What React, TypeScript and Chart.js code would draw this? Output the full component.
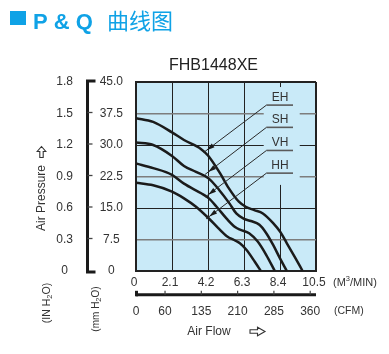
import { useEffect, useRef } from 'react';
import { Chart, registerables } from 'chart.js';

Chart.register(...registerables);

// ---- axis ticks / labels ----
const flowTicks = [0, 2.1, 4.2, 6.3, 8.4, 10.5];
const flowLabels = ['0', '2.1', '4.2', '6.3', '8.4', '10.5'];
const cfmTicks = [0, 60, 135, 210, 285, 360];
const cfmLabels = ['0', '60', '135', '210', '285', '360'];
const mmTicks = [0, 7.5, 15, 22.5, 30, 37.5, 45];
const mmLabels = ['0', '7.5', '15.0', '22.5', '30.0', '37.5', '45.0'];
const inTicks = [0, 0.3, 0.6, 0.9, 1.2, 1.5, 1.8];
const inLabels = ['0', '0.3', '0.6', '0.9', '1.2', '1.5', '1.8'];

// ---- P-Q curves (flow m3/min, pressure mmH2O) ----
const ehFlow = [0, 1.0, 2.1, 2.8, 3.8, 4.2, 4.9, 5.4, 6.0, 6.4, 6.9, 7.4, 8.0, 8.4, 8.8, 9.25, 9.72];
const ehPressure = [36.4, 35.5, 33.0, 31.2, 29.0, 27.5, 23.3, 19.8, 16.5, 15.3, 14.5, 13.7, 11.4, 9.4, 6.6, 3.4, 0];
const shFlow = [0, 1.0, 2.1, 2.8, 3.5, 4.25, 4.85, 5.45, 5.85, 6.3, 6.7, 7.2, 7.6, 8.0, 8.4, 8.8];
const shPressure = [30.6, 30.0, 27.4, 25.0, 23.6, 22.0, 19.3, 16.1, 13.7, 12.4, 11.9, 11.0, 9.0, 6.2, 3.0, 0];
const vhFlow = [0, 1.0, 2.1, 2.8, 3.8, 4.25, 4.7, 5.3, 5.8, 6.1, 6.6, 7.1, 7.6, 8.1];
const vhPressure = [25.6, 24.5, 22.9, 20.8, 18.5, 17.3, 15.3, 12.4, 10.4, 9.8, 9.0, 7.0, 3.8, 0];
const hhFlow = [0, 1.0, 2.1, 2.8, 3.5, 4.25, 4.8, 5.3, 5.8, 6.06, 6.45, 6.93, 7.28];
const hhPressure = [21.0, 20.4, 18.9, 17.3, 15.3, 12.5, 10.2, 8.3, 7.2, 6.6, 5.0, 2.2, 0];

const curveNames = ['EH', 'SH', 'VH', 'HH'];
// callout anchors (data units)
const calloutTextFlow = 8.4;
const calloutLineFrom = 7.61;
const calloutLineTo = 9.16;
const calloutPressure = [39.5, 34.2, 28.7, 23.3];
const calloutTipFlow = [3.94, 4.03, 4.03, 4.09];
const calloutTipPressure = [28.2, 23.0, 17.6, 12.4];

const FONT = '"Liberation Sans", Arial, Helvetica, sans-serif';
const PLOT_BG = '#c9eaf8';
const BLUE = '#0fa2e6';
const DARK = '#222222';
const TEXT = '#333333';
const GRAY_LINE = '#7d7d7d';

const toPoints = (xs: number[], ys: number[]) => xs.map((x, i) => ({ x, y: ys[i] }));

type Part = { t: string; size: number; dy: number };
function richWidth(ctx: CanvasRenderingContext2D, parts: Part[]) {
  let w = 0;
  for (const p of parts) {
    ctx.font = `${p.size}px ${FONT}`;
    w += ctx.measureText(p.t).width;
  }
  return w;
}
function drawRich(ctx: CanvasRenderingContext2D, parts: Part[], x: number, y: number, align: 'left' | 'center') {
  let cx = align === 'center' ? x - richWidth(ctx, parts) / 2 : x;
  ctx.textAlign = 'left';
  ctx.textBaseline = 'middle';
  for (const p of parts) {
    ctx.font = `${p.size}px ${FONT}`;
    ctx.fillText(p.t, cx, y + p.dy);
    cx += ctx.measureText(p.t).width;
  }
}

const pqPlugin = {
  id: 'pqDecor',
  beforeDraw(chart: any) {
    const { ctx, chartArea: a } = chart;
    ctx.save();
    ctx.fillStyle = PLOT_BG;
    ctx.fillRect(a.left, a.top, a.right - a.left, a.bottom - a.top);
    ctx.restore();
  },
  beforeDatasetsDraw(chart: any) {
    const { ctx } = chart;
    const xs = chart.scales.x;
    const ys = chart.scales.y;
    // label panel hides grid lines behind the callout texts
    const l = xs.getPixelForValue(7.45);
    const r = xs.getPixelForValue(9.55);
    const t = ys.getPixelForValue(43.8);
    const b = ys.getPixelForValue(20.5);
    ctx.save();
    ctx.fillStyle = PLOT_BG;
    ctx.fillRect(l, t, r - l, b - t);
    ctx.restore();
  },
  afterDraw(chart: any) {
    const { ctx } = chart;
    const xs = chart.scales.x;
    const x2 = chart.scales.x2;
    const ys = chart.scales.y;
    ctx.save();

    // header
    ctx.fillStyle = BLUE;
    ctx.fillRect(10, 11, 16, 14);
    ctx.textBaseline = 'alphabetic';
    ctx.textAlign = 'left';
    ctx.font = `bold 22px ${FONT}`;
    ctx.fillText('P & Q', 33, 28.5);
    ctx.font = `22px "Noto Sans CJK SC", sans-serif`;
    ctx.fillText('曲线图', 107, 28.5);

    // model title
    ctx.fillStyle = DARK;
    ctx.font = `16px ${FONT}`;
    ctx.textAlign = 'center';
    ctx.fillText('FHB1448XE', 213.5, 70);

    // callouts
    ctx.font = `12px ${FONT}`;
    for (let i = 0; i < curveNames.length; i++) {
      const uy = ys.getPixelForValue(calloutPressure[i]);
      const ux0 = xs.getPixelForValue(calloutLineFrom);
      const ux1 = xs.getPixelForValue(calloutLineTo);
      ctx.fillStyle = TEXT;
      ctx.textAlign = 'center';
      ctx.textBaseline = 'alphabetic';
      ctx.fillText(curveNames[i], xs.getPixelForValue(calloutTextFlow), uy - 4);
      ctx.strokeStyle = '#5a5a5a';
      ctx.lineWidth = 1.6;
      ctx.beginPath();
      ctx.moveTo(ux0, uy);
      ctx.lineTo(ux1, uy);
      ctx.stroke();
      const tx = xs.getPixelForValue(calloutTipFlow[i]);
      const ty = ys.getPixelForValue(calloutTipPressure[i]);
      ctx.strokeStyle = '#2a2a2a';
      ctx.lineWidth = 1;
      ctx.beginPath();
      ctx.moveTo(ux0, uy);
      ctx.lineTo(tx, ty);
      ctx.stroke();
      // arrow head
      const dx = tx - ux0;
      const dy = ty - uy;
      const len = Math.hypot(dx, dy);
      const ux = dx / len;
      const uyv = dy / len;
      const hx = tx - ux * 4;
      const hy = ty - uyv * 4;
      const bx = hx - ux * 8;
      const by = hy - uyv * 8;
      ctx.fillStyle = '#1a1a1a';
      ctx.beginPath();
      ctx.moveTo(hx, hy);
      ctx.lineTo(bx - uyv * 2.3, by + ux * 2.3);
      ctx.lineTo(bx + uyv * 2.3, by - ux * 2.3);
      ctx.closePath();
      ctx.fill();
    }

    // left mm bracket
    const bl = ys.left + 1.5;
    const top = ys.getPixelForValue(45);
    const bot = ys.getPixelForValue(0);
    ctx.strokeStyle = '#1a1a1a';
    ctx.lineWidth = 3;
    ctx.beginPath();
    ctx.moveTo(bl + 8, top - 1);
    ctx.lineTo(bl, top - 1);
    ctx.lineTo(bl, bot + 1);
    ctx.lineTo(bl + 8, bot + 1);
    ctx.stroke();
    ctx.lineWidth = 1.3;
    ctx.strokeStyle = '#444';
    for (const v of mmTicks.slice(1, -1)) {
      const py = ys.getPixelForValue(v) - 1;
      ctx.beginPath();
      ctx.moveTo(bl, py);
      ctx.lineTo(bl + 5, py);
      ctx.stroke();
    }

    // bottom CFM bracket
    const cy = x2.top + 3.8;
    const cl = xs.left;
    const cr = xs.right;
    ctx.strokeStyle = '#1a1a1a';
    ctx.lineWidth = 3;
    ctx.beginPath();
    ctx.moveTo(cl, cy);
    ctx.lineTo(cr, cy);
    ctx.stroke();
    ctx.fillStyle = '#1a1a1a';
    ctx.fillRect(cl - 1, cy - 4, 3, 5.5);
    ctx.lineWidth = 1.2;
    ctx.strokeStyle = '#444';
    for (const v of cfmTicks.slice(1)) {
      const px = x2.getPixelForValue(v);
      ctx.beginPath();
      ctx.moveTo(px, cy);
      ctx.lineTo(px, cy - 4);
      ctx.stroke();
    }

    // unit labels on the right
    ctx.fillStyle = TEXT;
    const rowY = xs.top + 11.5;
    drawRich(ctx, [
      { t: '(M', size: 11, dy: 0 },
      { t: '3', size: 7.5, dy: -3.5 },
      { t: '/MIN)', size: 11, dy: 0 },
    ], 333, rowY, 'left');
    drawRich(ctx, [{ t: '(CFM)', size: 10.5, dy: 0 }], 334, x2.top + 20.5, 'left');

    // Air Flow + arrow
    ctx.font = `12px ${FONT}`;
    ctx.textAlign = 'center';
    ctx.textBaseline = 'middle';
    ctx.fillText('Air Flow', 209, 331.5);
    ctx.strokeStyle = '#333';
    ctx.lineWidth = 1.1;
    ctx.beginPath();
    ctx.moveTo(250, 329.8);
    ctx.lineTo(257.5, 329.8);
    ctx.lineTo(257.5, 327.3);
    ctx.lineTo(265, 331.5);
    ctx.lineTo(257.5, 335.7);
    ctx.lineTo(257.5, 333.2);
    ctx.lineTo(250, 333.2);
    ctx.closePath();
    ctx.stroke();

    // Air Pressure (rotated) + up arrow
    ctx.save();
    ctx.translate(41.5, 198);
    ctx.rotate(-Math.PI / 2);
    ctx.font = `12px ${FONT}`;
    ctx.fillText('Air Pressure', 0, 0);
    ctx.restore();
    ctx.beginPath();
    ctx.moveTo(39.8, 157.5);
    ctx.lineTo(39.8, 151.5);
    ctx.lineTo(37.2, 151.5);
    ctx.lineTo(41.5, 146.5);
    ctx.lineTo(45.8, 151.5);
    ctx.lineTo(43.2, 151.5);
    ctx.lineTo(43.2, 157.5);
    ctx.closePath();
    ctx.stroke();

    // rotated unit labels
    const rotated = (x: number, y: number, parts: Part[]) => {
      ctx.save();
      ctx.translate(x, y);
      ctx.rotate(-Math.PI / 2);
      drawRich(ctx, parts, 0, 0, 'center');
      ctx.restore();
    };
    rotated(47.5, 303, [
      { t: '(IN H', size: 10.5, dy: 0 },
      { t: '2', size: 7.5, dy: 2.5 },
      { t: 'O)', size: 10.5, dy: 0 },
    ]);
    rotated(96, 309, [
      { t: '(mm H', size: 10, dy: 0 },
      { t: '2', size: 7.5, dy: 2.5 },
      { t: 'O)', size: 10, dy: 0 },
    ]);

    ctx.restore();
  },
};

const setTicks = (vals: number[]) => (scale: any) => {
  scale.ticks = vals.map((v) => ({ value: v }));
};

export default function App() {
  const ref = useRef<HTMLCanvasElement | null>(null);
  useEffect(() => {
    if (!ref.current) return;
    const lineStyle = {
      borderColor: '#1b1b1b',
      borderWidth: 2.5,
      pointRadius: 0,
      fill: false,
      cubicInterpolationMode: 'monotone' as const,
      xAxisID: 'x',
      yAxisID: 'y',
    };
    const tickFont = { family: FONT, size: 12 };
    const chart = new Chart(ref.current, {
      type: 'line',
      data: {
        datasets: [
          { label: 'EH', data: toPoints(ehFlow, ehPressure), ...lineStyle },
          { label: 'SH', data: toPoints(shFlow, shPressure), ...lineStyle },
          { label: 'VH', data: toPoints(vhFlow, vhPressure), ...lineStyle },
          { label: 'HH', data: toPoints(hhFlow, hhPressure), ...lineStyle },
        ],
      },
      options: {
        animation: false,
        responsive: false,
        devicePixelRatio: 1,
        events: [],
        layout: { padding: { left: 50, top: 82, right: 73, bottom: 33 } },
        plugins: { legend: { display: false }, tooltip: { enabled: false }, title: { display: false } },
        scales: {
          x: {
            type: 'linear',
            position: 'bottom',
            weight: 1,
            min: 0,
            max: 10.5,
            afterBuildTicks: setTicks(flowTicks),
            afterFit: (s: any) => { s.height = 20; },
            ticks: {
              callback: (_v: any, i: number) => flowLabels[i],
              padding: 4,
              labelOffset: -2,
              color: TEXT,
              font: tickFont,
              maxRotation: 0,
              autoSkip: false,
            },
            grid: {
              drawTicks: false,
              color: DARK,
              lineWidth: (c: any) => (c.tick && c.tick.value === 10.5 ? 2 : 1),
            },
            border: { color: DARK, width: 2 },
          },
          x2: {
            type: 'linear',
            position: 'bottom',
            weight: 2,
            min: 0,
            max: 372,
            afterBuildTicks: setTicks(cfmTicks),
            afterFit: (s: any) => { s.height = 30; },
            ticks: {
              callback: (_v: any, i: number) => cfmLabels[i],
              padding: 13,
              color: TEXT,
              font: tickFont,
              maxRotation: 0,
              autoSkip: false,
            },
            grid: { display: false, drawTicks: false },
            border: { display: false },
          },
          y: {
            type: 'linear',
            position: 'left',
            weight: 1,
            min: 0,
            max: 45,
            afterBuildTicks: setTicks(mmTicks),
            afterFit: (s: any) => { s.width = 50; },
            ticks: {
              callback: (_v: any, i: number) => mmLabels[i],
              crossAlign: 'center',
              padding: 13,
              color: TEXT,
              font: tickFont,
              autoSkip: false,
            },
            grid: {
              drawTicks: false,
              color: (c: any) => ([7.5, 22.5, 37.5].includes(c.tick && c.tick.value) ? GRAY_LINE : DARK),
              lineWidth: (c: any) => {
                const v = c.tick && c.tick.value;
                if (v === 45) return 2;
                if ([7.5, 22.5, 37.5].includes(v)) return 1.6;
                return 1;
              },
            },
            border: { color: DARK, width: 2 },
          },
          yIn: {
            type: 'linear',
            position: 'left',
            weight: 2,
            min: 0,
            max: 1.8,
            afterBuildTicks: setTicks(inTicks),
            afterFit: (s: any) => { s.width = 36; },
            ticks: {
              callback: (_v: any, i: number) => inLabels[i],
              crossAlign: 'center',
              padding: 13,
              color: TEXT,
              font: tickFont,
              autoSkip: false,
            },
            grid: { display: false, drawTicks: false },
            border: { display: false },
          },
        },
      },
      plugins: [pqPlugin],
    } as any);
    return () => chart.destroy();
  }, []);

  return (
    <div style={{ position: 'absolute', left: 0, top: 0, width: 389, height: 354, background: '#fff' }}>
      <canvas ref={ref} width={389} height={354} style={{ display: 'block', width: 389, height: 354 }} />
    </div>
  );
}
